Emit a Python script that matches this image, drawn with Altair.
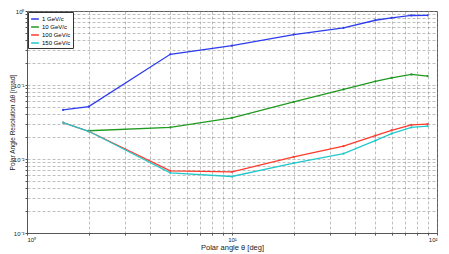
import altair as alt
import pandas as pd

angles = [1.5, 2, 5, 10, 20, 35, 50, 60, 75, 90]
series_names = ["1 GeV/c", "10 GeV/c", "100 GeV/c", "150 GeV/c"]
res_1 = [0.046, 0.051, 0.26, 0.34, 0.48, 0.59, 0.75, 0.81, 0.87, 0.875]
res_10 = [None, 0.0241, 0.0267, 0.036, 0.059, 0.087, 0.112, 0.125, 0.139, 0.132]
res_100 = [0.0311, 0.0237, 0.0069, 0.0067, 0.0107, 0.0149, 0.0207, 0.0244, 0.029, 0.0296]
res_150 = [0.0311, 0.0237, 0.0065, 0.0058, 0.0088, 0.0118, 0.0177, 0.022, 0.0267, 0.0278]
colors = ["#2b3cf0", "#1f9a1f", "#ff3b2b", "#22c8cc"]

x_ticks = [1, 2, 3, 4, 5, 6, 7, 8, 9, 10, 20, 30, 40, 50, 60, 70, 80, 90, 100]
y_ticks = [0.001, 0.002, 0.003, 0.004, 0.005, 0.006, 0.007, 0.008, 0.009,
           0.01, 0.02, 0.03, 0.04, 0.05, 0.06, 0.07, 0.08, 0.09,
           0.1, 0.2, 0.3, 0.4, 0.5, 0.6, 0.7, 0.8, 0.9, 1]

rows = []
for name, vals in zip(series_names, [res_1, res_10, res_100, res_150]):
    for a, v in zip(angles, vals):
        if v is not None:
            rows.append({"angle": a, "res": v, "series": name})
df = pd.DataFrame(rows)

chart = alt.Chart(df).mark_line(
    strokeWidth=1.3, point=alt.OverlayMarkDef(size=5, filled=True)
).encode(
    x=alt.X("angle:Q", scale=alt.Scale(type="log", domain=[1, 100], nice=False),
            axis=alt.Axis(values=x_ticks, title="Polar angle θ [deg]",
                          labelExpr="datum.value == 1 ? '10⁰' : datum.value == 10 ? '10¹' : datum.value == 100 ? '10²' : ''")),
    y=alt.Y("res:Q", scale=alt.Scale(type="log", domain=[0.001, 1], nice=False),
            axis=alt.Axis(values=y_ticks, title="Polar Angle Resolution  Δθ [mrad]",
                          titleX=-15, titleY=111, titleAngle=270, titleAlign="center",
                          titleBaseline="middle", titleFontSize=6.5,
                          labelExpr="datum.value == 0.001 ? '10⁻³' : datum.value == 0.01 ? '10⁻²' : datum.value == 0.1 ? '10⁻¹' : datum.value == 1 ? '10⁰' : ''")),
    color=alt.Color("series:N", sort=series_names,
                    scale=alt.Scale(domain=series_names, range=colors),
                    legend=alt.Legend(title=None, orient="top-left", offset=1,
                                      symbolType="stroke", symbolStrokeWidth=1.5,
                                      symbolSize=60, labelFontSize=6, labelLimit=60,
                                      fillColor="white", strokeColor="#333333",
                                      padding=2, rowPadding=0, labelOffset=2,
                                      labelFont="Liberation Sans")),
).properties(
    width=410, height=222,
    autosize=alt.AutoSizeParams(type="none"),
    padding={"left": 19, "top": 3, "right": 4, "bottom": 21},
).configure_axis(
    grid=True, gridDash=[3, 2], gridColor="#888888", gridOpacity=0.9, gridWidth=0.6,
    labelFontSize=6, titleFontSize=7.5, labelFont="Liberation Sans", titleFont="Liberation Sans",
    titleFontWeight="normal", labelColor="#222222", titleColor="#222222",
    domainColor="#555555", tickColor="#555555", tickSize=2, labelPadding=1,
).configure_axisX(titlePadding=1).configure_view(
    stroke="#555555", strokeWidth=1
)

chart.save("out.html", embed_options={"renderer": "svg", "actions": False})
